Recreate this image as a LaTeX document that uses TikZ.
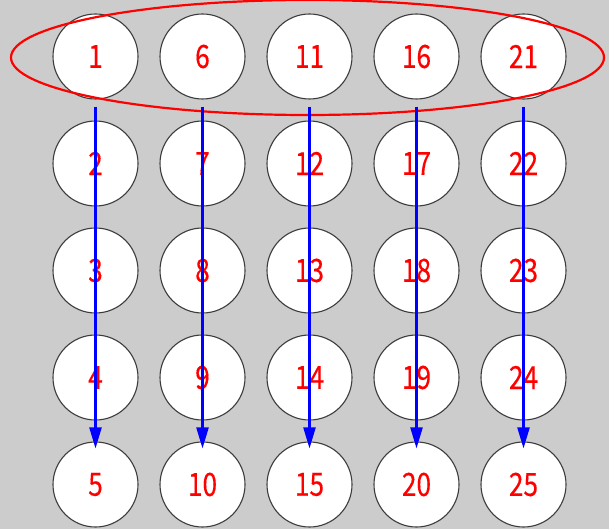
\documentclass[tikz,border=0pt]{standalone}
\usepackage{fontspec}
\setmainfont{Noto Sans CJK JP}[FakeStretch=0.82,FakeBold=0.3]
\usetikzlibrary{arrows.meta,shapes.geometric}
\definecolor{bg}{RGB}{204,204,204}
\definecolor{rim}{RGB}{60,60,60}
\tikzset{
  cell/.style={circle, draw=rim, line width=1.1pt, fill=white, minimum size=85pt, inner sep=0pt, text=red, font=\fontsize{32}{32}\selectfont},
  arr/.style={draw=blue, line width=2.2pt, -{Triangle[length=21pt,width=12pt]}},
  ring/.style={draw=red, line width=2.2pt}
}
\begin{document}
\begin{tikzpicture}[x=1pt,y=-1pt]
\fill[bg] (0,0) rectangle (609,529);
\useasboundingbox (0,0) rectangle (609,529);
\foreach \c in {0,...,4}{
  \foreach \r in {0,...,4}{
    \pgfmathtruncatemacro{\n}{\c*5+\r+1}
    \node[cell] (n\n) at ({95.5+107*\c},{56.5+107*\r}) {\n};
  }
}
\node[ring, ellipse, minimum width=593pt, minimum height=115pt, inner sep=0pt] (grp) at (307.5,57.5) {};
\foreach \a/\b in {1/5,6/10,11/15,16/20,21/25}{
  \draw[arr] ([yshift=-7pt]n\a.south) -- ([yshift=-7pt]n\b.north);
}
\end{tikzpicture}
\end{document}
